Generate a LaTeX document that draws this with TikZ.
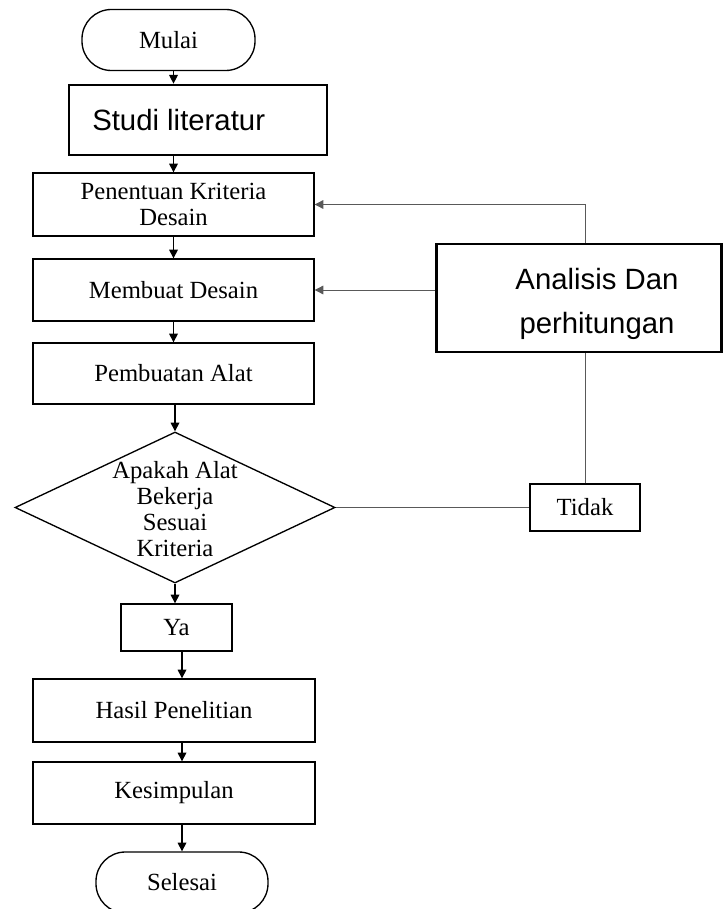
\documentclass[tikz,border=0pt]{standalone}
\usepackage{fontspec}
\setmainfont{Liberation Serif}
\newfontfamily\arialfont{Liberation Sans}
\usetikzlibrary{shapes.geometric,arrows.meta}
\begin{document}
\begin{tikzpicture}[x=0.75pt,y=-0.75pt,
  box/.style={draw,line width=1pt,inner sep=0pt,align=center,font=\fontsize{18.5}{19.5}\selectfont},
  bigbox/.style={draw,line width=2pt,inner sep=0pt,align=center,font=\arialfont\fontsize{22}{33}\selectfont},
  term/.style={box,rounded corners=22pt},
  dec/.style={draw,line width=1pt,shape=diamond,inner sep=0pt},
  arr/.style={-{Triangle[width=6.5pt,length=6.5pt]},line width=0.9pt},
  fb/.style={line width=0.7pt,draw=black!65},
  fbarr/.style={fb,-{Triangle[width=6.5pt,length=6.5pt]}}]
\useasboundingbox (0,0) rectangle (723,909);
\clip (0,0) rectangle (723,909);

\node[term,minimum width=129.75pt,minimum height=45.75pt] (mulai) at (168.5,40) {Mulai};
\node[bigbox,minimum width=193.5pt,minimum height=52.5pt] (studi) at (198,120) {Studi literatur\hspace*{29pt}};
\node[box,minimum width=210.75pt,minimum height=47.25pt] (pen) at (173.5,204.5) {Penentuan Kriteria\\Desain};
\node[box,minimum width=210.75pt,minimum height=46.5pt] (mem) at (173.5,290) {Membuat Desain};
\node[box,minimum width=210.75pt,minimum height=45.75pt] (pemb) at (173.5,373.5) {Pembuatan Alat};
\node[dec,minimum width=240pt,minimum height=113.25pt] (dia) at (175,507.5) {};
\node[align=center,inner sep=0pt,font=\fontsize{18.5}{19.5}\selectfont] (diatext) at (175,509) {Apakah Alat\\Bekerja\\Sesuai\\Kriteria};
\node[box,minimum width=83.25pt,minimum height=35.25pt] (ya) at (176.5,627.5) {Ya};
\node[box,minimum width=211.5pt,minimum height=47.25pt] (hasil) at (174,710.5) {Hasil Penelitian};
\node[box,minimum width=211.5pt,minimum height=46.5pt] (kes) at (174,793) {Kesimpulan};
\node[term,minimum width=129pt,minimum height=45.75pt] (sel) at (182,882.5) {Selesai};
\node[bigbox,minimum width=214pt,minimum height=81pt] (ana) at (579,298) {\rule{0pt}{25pt}\hspace*{27pt}Analisis Dan\\\hspace*{27pt}perhitungan};
\node[box,minimum width=82.5pt,minimum height=35.25pt] (tidak) at (585,507.5) {Tidak};

\draw[arr] (mulai.south -| pen) -- (studi.north -| pen);
\draw[arr] (studi.south -| pen) -- (pen.north);
\draw[arr] (pen.south) -- (mem.north);
\draw[arr] (mem.south) -- (pemb.north);
\draw[arr] (pemb.south -| dia) -- (dia.north);
\draw[arr] (dia.south) -- (dia.south |- ya.north);
\draw[arr] (ya.south -| sel) -- (hasil.north -| sel);
\draw[arr] (hasil.south -| sel) -- (kes.north -| sel);
\draw[arr] (kes.south -| sel) -- (sel.north);

\draw[fbarr] (ana.north -| tidak) |- (pen.east);
\draw[fbarr] (ana.west |- mem.east) -- (mem.east);
\draw[fb] (tidak.north) -- (ana.south -| tidak);
\draw[fb] (dia.east) -- (tidak.west);
\end{tikzpicture}
\end{document}
